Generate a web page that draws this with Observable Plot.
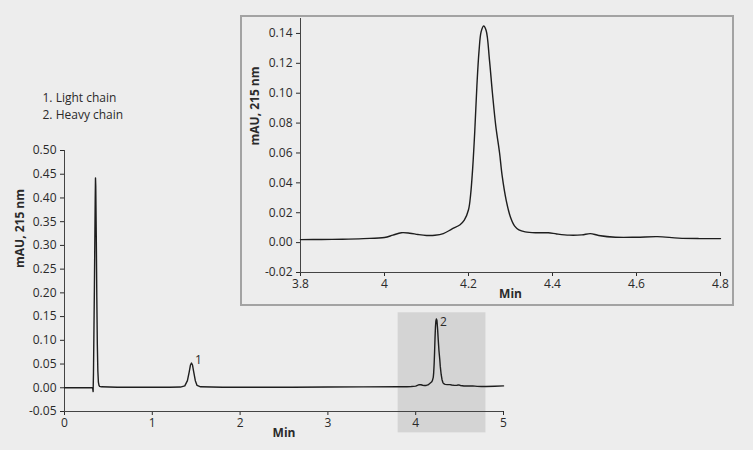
<!DOCTYPE html>
<html>
<head>
<meta charset="utf-8">
<script src="https://cdn.jsdelivr.net/npm/d3@7"></script>
<script src="https://cdn.jsdelivr.net/npm/@observablehq/plot@0.6"></script>
<style>
  html, body { margin: 0; padding: 0; background: #ededed; }
  #wrap { position: relative; width: 753px; height: 450px; background: #ededed; overflow: hidden; }
  #wrap svg { position: absolute; }
  #insetBorder { position: absolute; left: 240px; top: 15px; width: 494px; height: 291px; box-sizing: border-box; border: 2px solid #a3a3a3; }
</style>
</head>
<body>
<div id="wrap"><div id="insetBorder"></div></div>
<script>
// ---- Data ----
const traceTime = [
  0.00, 0.20, 0.32, 0.326, 0.330, 0.340, 0.350, 0.353, 0.356, 0.362, 0.368, 0.374, 0.380, 0.386, 0.393, 0.40, 0.42,
  0.60, 0.90, 1.20, 1.32, 1.37, 1.40, 1.42, 1.435, 1.446, 1.458, 1.47, 1.49, 1.51, 1.55,
  1.80, 2.20, 2.60, 3.00, 3.40,
  3.80, 3.85, 3.90, 3.95, 4.00, 4.02, 4.04, 4.06, 4.08, 4.10, 4.12, 4.14, 4.16, 4.18, 4.19, 4.20,
  4.205, 4.21, 4.215, 4.22, 4.225, 4.23, 4.236, 4.242, 4.25, 4.257, 4.265, 4.274, 4.28, 4.29, 4.30,
  4.31, 4.32, 4.335, 4.36, 4.39, 4.41, 4.44, 4.47, 4.49, 4.51, 4.55, 4.60, 4.65, 4.70, 4.75, 4.80,
  4.90, 5.00
];
const traceValue = [
  0.000, 0.000, 0.000, -0.008, 0.030, 0.200, 0.400, 0.442, 0.425, 0.320, 0.190, 0.090, 0.035, 0.012, 0.005, 0.003, 0.002,
  0.001, 0.001, 0.001, 0.0015, 0.004, 0.015, 0.033, 0.048, 0.052, 0.048, 0.035, 0.015, 0.005, 0.002,
  0.001, 0.001, 0.0012, 0.0015, 0.0018,
  0.0020, 0.0021, 0.0023, 0.0027, 0.0034, 0.0050, 0.0066, 0.0063, 0.0054, 0.0048, 0.0049, 0.0060, 0.0090, 0.0120, 0.0150, 0.0220,
  0.032, 0.050, 0.075, 0.105, 0.128, 0.141, 0.145, 0.142, 0.122, 0.100, 0.078, 0.060, 0.045, 0.028, 0.017,
  0.011, 0.0085, 0.0072, 0.0066, 0.0066, 0.0058, 0.0050, 0.0052, 0.0060, 0.0048, 0.0036, 0.0036, 0.0040, 0.0030, 0.0027, 0.0027,
  0.0032, 0.0040
];
const peakNames = ["1", "2"];
const peakTime = [1.446, 4.236];
const peakValue = [0.052, 0.145];
const legendItems = ["1. Light chain", "2. Heavy chain"];
const zoomWindow = [3.8, 4.8];

const xTicksMain = [0, 1, 2, 3, 4, 5];
const yTicksMain = [-0.05, 0, 0.05, 0.10, 0.15, 0.20, 0.25, 0.30, 0.35, 0.40, 0.45, 0.50];
const xTicksInset = [3.8, 4.0, 4.2, 4.4, 4.6, 4.8];
const yTicksInset = [-0.02, 0, 0.02, 0.04, 0.06, 0.08, 0.10, 0.12, 0.14];
const xLabel = "Min";
const yLabel = "mAU, 215 nm";

// ---- Tables built from the arrays ----
const trace = traceTime.map((t, i) => ({t, v: traceValue[i]}));
const insetTrace = trace.filter(d => d.t >= zoomWindow[0] - 1e-9 && d.t <= zoomWindow[1] + 1e-9);
const peaks = peakNames.map((n, i) => ({n, t: peakTime[i], v: peakValue[i]}));

const font = {background: "transparent", fontFamily: "'Open Sans', sans-serif", fontSize: "12px", color: "#2a2a2a", overflow: "visible"};
const lineColor = "#1e1e1e";

const main = Plot.plot({
  width: 753, height: 450,
  marginLeft: 64, marginRight: 250, marginTop: 150, marginBottom: 39,
  x: {domain: [0, 5]},
  y: {domain: [-0.05, 0.5]},
  style: font,
  marks: [
    Plot.rect([zoomWindow], {x1: d => d[0], x2: d => d[1], y1: -0.095, y2: 0.158, fill: "#d4d4d4"}),
    Plot.axisY({ticks: yTicksMain, tickSize: 4, tickPadding: 4, tickFormat: d => d.toFixed(2), label: null}),
    Plot.axisX({ticks: xTicksMain, tickSize: 4, tickPadding: 3, tickFormat: d => String(d), label: null}),
    Plot.ruleX([0], {y1: -0.05, y2: 0.5, stroke: "#444"}),
    Plot.ruleY([-0.05], {x1: 0, x2: 5, stroke: "#444"}),
    Plot.line(trace, {x: "t", y: "v", stroke: lineColor, strokeWidth: 1.4}),
    Plot.text(peaks.slice(0, 1), {x: "t", y: "v", text: "n", dx: 7, dy: -3, textAnchor: "middle", fontSize: 12}),
    Plot.text(peaks.slice(1), {x: "t", y: "v", text: "n", dx: 7, dy: 3, textAnchor: "middle", fontSize: 12}),
    Plot.text([xLabel], {frameAnchor: "bottom", dy: 25, fontWeight: "bold"}),
    Plot.text([yLabel], {frameAnchor: "left", rotate: -90, dx: -44, dy: -13, fontWeight: "bold"}),
    Plot.text([legendItems.join("\n")], {frameAnchor: "top-left", textAnchor: "start", lineAnchor: "top", lineHeight: 1.42, dx: -22, dy: -61})
  ]
});
main.style.left = "0px"; main.style.top = "0px";

const inset = Plot.plot({
  width: 494, height: 291,
  marginLeft: 60, marginRight: 14, marginTop: 3, marginBottom: 34,
  x: {domain: zoomWindow},
  y: {domain: [-0.02, 0.15]},
  style: font,
  marks: [
    Plot.axisY({ticks: yTicksInset, tickSize: 4, tickPadding: 4, tickFormat: d => d.toFixed(2), label: null}),
    Plot.axisX({ticks: xTicksInset, tickSize: 4, tickPadding: 3, tickFormat: d => String(+d.toFixed(1)), label: null}),
    Plot.ruleX([zoomWindow[0]], {y1: -0.02, y2: 0.15, stroke: "#444"}),
    Plot.ruleY([-0.02], {x1: zoomWindow[0], x2: zoomWindow[1], stroke: "#444"}),
    Plot.line(insetTrace, {x: "t", y: "v", stroke: lineColor, strokeWidth: 1.4, curve: "catmull-rom"}),
    Plot.text([xLabel], {frameAnchor: "bottom", dy: 25, fontWeight: "bold"}),
    Plot.text([yLabel], {frameAnchor: "left", rotate: -90, dx: -45, fontWeight: "bold"})
  ]
});
inset.style.left = "240px"; inset.style.top = "15px";

const wrap = document.getElementById("wrap");
wrap.appendChild(main);
wrap.appendChild(inset);
</script>
</body>
</html>
